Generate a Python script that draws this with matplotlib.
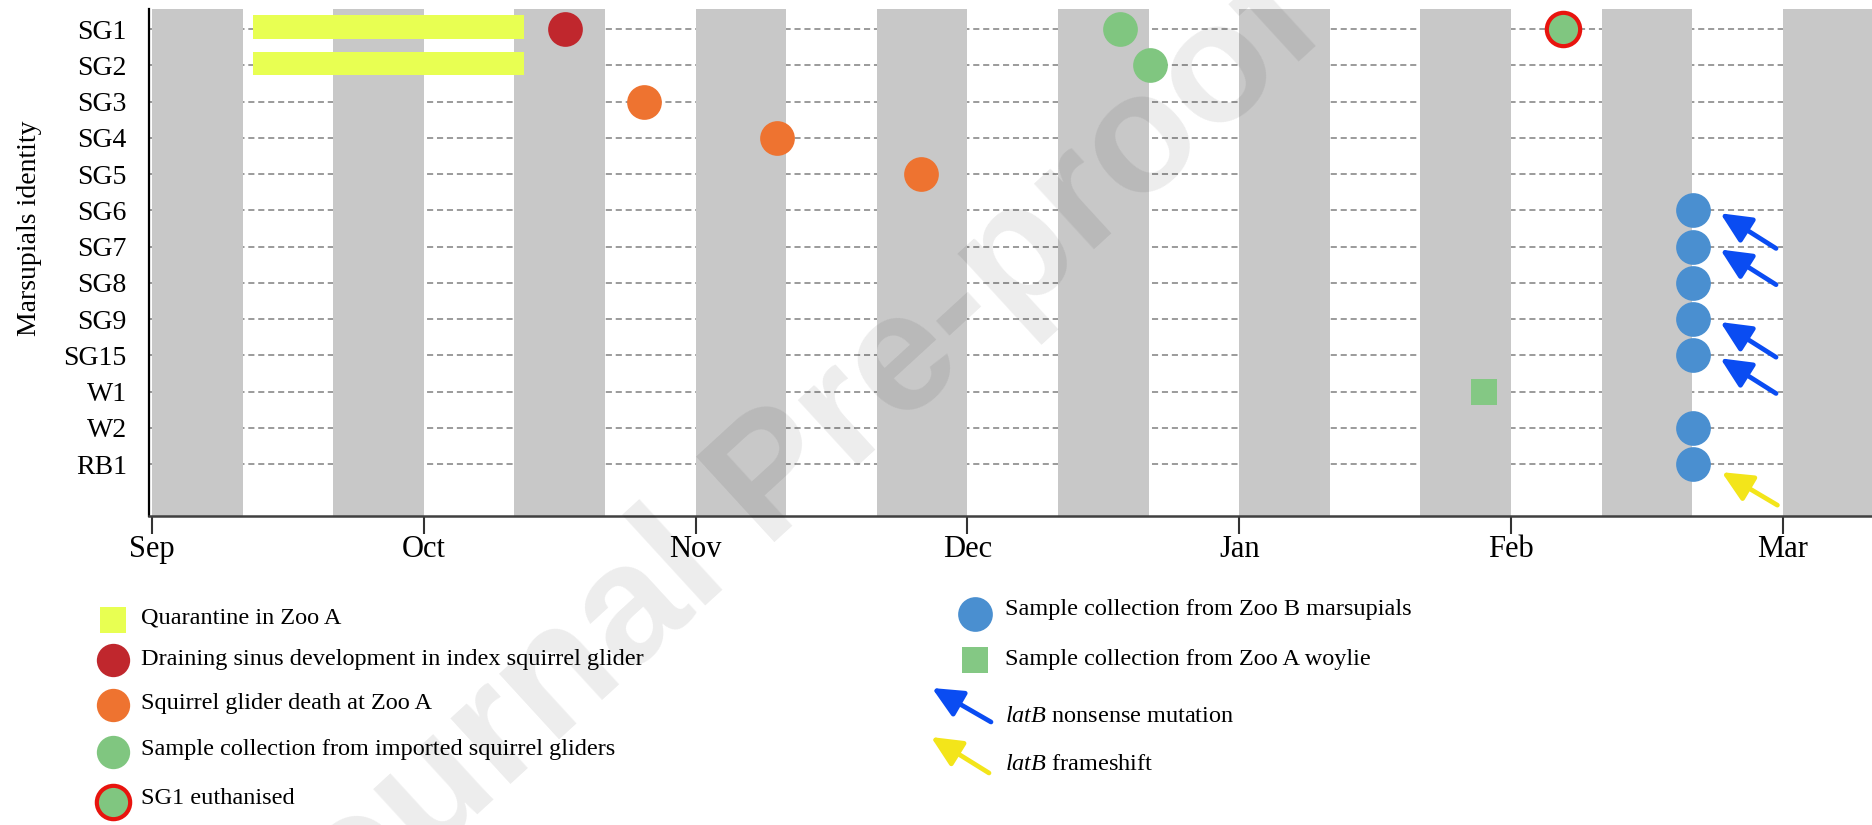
import numpy as np
import matplotlib
matplotlib.use("Agg")
import matplotlib.pyplot as plt

# Rows (top to bottom) and month ticks
animals = ["SG1", "SG2", "SG3", "SG4", "SG5", "SG6", "SG7", "SG8",
           "SG9", "SG15", "W1", "W2", "RB1"]
months = ["Sep", "Oct", "Nov", "Dec", "Jan", "Feb", "Mar"]

# Event positions, in months after 1 Sep
quarantine_ids = ["SG1", "SG2"]
quarantine_start = 0.37
quarantine_end = 1.37
sinus_ids = ["SG1"]
sinus_pos = [1.52]
death_ids = ["SG3", "SG4", "SG5"]
death_pos = [1.81, 2.30, 2.83]
imported_ids = ["SG1", "SG2"]
imported_pos = [3.56, 3.67]
euth_ids = ["SG1"]
euth_pos = [5.19]
woylie_ids = ["W1"]
woylie_pos = [4.90]
zoob_ids = ["SG6", "SG7", "SG8", "SG9", "SG15", "W2", "RB1"]
zoob_pos = [5.67] * 7
nonsense_ids = ["SG6", "SG7", "SG9", "SG15"]
frameshift_ids = ["RB1"]

# Colours
c_band = "#c8c8c8"
c_quar = "#e8ff52"
c_sinus = "#c0272d"
c_death = "#ee7330"
c_green = "#80c680"
c_euth_edge = "#e8140e"
c_blue = "#4a8fd0"
c_square = "#84c884"
c_arrow_blue = "#0a4cf2"
c_arrow_yel = "#f3e51a"

serif = ["Liberation Serif", "DejaVu Serif"]
plt.rcParams["font.family"] = serif
plt.rcParams["mathtext.fontset"] = "custom"
plt.rcParams["mathtext.it"] = "Liberation Serif:italic"
plt.rcParams["mathtext.rm"] = "Liberation Serif"

row = {name: i for i, name in enumerate(animals)}

fig = plt.figure(figsize=(18.72, 8.25), dpi=100)
ax = fig.add_axes([0.0796, 0.3745, 0.9204, 0.614])

# alternating thirds of a month shaded grey
for start in np.arange(0, 6.2, 2 / 3):
    ax.axvspan(start, start + 1 / 3, color=c_band, lw=0, zorder=1)

# dashed row guides (under the bands)
for i in range(len(animals)):
    ax.axhline(i, color="#808080", lw=1.1, dashes=(4, 2.5), zorder=0.5)

# quarantine bars
for name in quarantine_ids:
    ax.barh(row[name] - 0.05, quarantine_end - quarantine_start,
            left=quarantine_start, height=0.65, color=c_quar, zorder=3)

ms = 25
ax.plot(sinus_pos, [row[n] for n in sinus_ids], "o", ms=ms,
        color=c_sinus, mew=0, zorder=4)
ax.plot(death_pos, [row[n] for n in death_ids], "o", ms=ms,
        color=c_death, mew=0, zorder=4)
ax.plot(imported_pos, [row[n] for n in imported_ids], "o", ms=ms,
        color=c_green, mew=0, zorder=4)
ax.plot(euth_pos, [row[n] for n in euth_ids], "o", ms=ms - 1,
        mfc=c_green, mec=c_euth_edge, mew=3, zorder=4)
ax.plot(woylie_pos, [row[n] for n in woylie_ids], "s", ms=19,
        color=c_square, mew=0, zorder=4)
ax.plot(zoob_pos, [row[n] for n in zoob_ids], "o", ms=ms,
        color=c_blue, mew=0, zorder=4)

arrow_kw = dict(arrowstyle="-|>,head_length=0.6,head_width=0.28",
                mutation_scale=31, lw=3.4, shrinkA=0, shrinkB=0)
for name in nonsense_ids:
    r = row[name]
    ax.annotate("", xy=(5.77, r + 0.08), xytext=(5.975, r + 1.05),
                arrowprops=dict(color=c_arrow_blue, **arrow_kw), zorder=5)
for name in frameshift_ids:
    r = row[name]
    ax.annotate("", xy=(5.775, r + 0.22), xytext=(5.98, r + 1.13),
                arrowprops=dict(color=c_arrow_yel, **arrow_kw), zorder=5)

ax.set_xlim(-0.011, 6.328)
ax.set_ylim(13.43, -0.54)
ax.set_xticks(range(len(months)))
ax.set_xticklabels(months, fontsize=22)
ax.set_yticks(range(len(animals)))
ax.set_yticklabels(animals, fontsize=20)
ax.tick_params(axis="x", length=13, width=1.5, color="#333333", pad=1)
ax.tick_params(axis="y", length=0, pad=16)
for s in ["top", "right"]:
    ax.spines[s].set_visible(False)
ax.spines["left"].set_linewidth(1.6)
ax.spines["left"].set_color("black")
ax.spines["bottom"].set_linewidth(1.8)
ax.spines["bottom"].set_color("#404040")
ax.spines["left"].set_zorder(6)
ax.spines["bottom"].set_zorder(6)

fig.text(30 / 1872, 1 - 228 / 825, "Marsupials identity", rotation=90,
         ha="center", va="center", fontsize=20)

# legend drawn in pixel space below the chart
lg = fig.add_axes([0, 0, 1, 1], zorder=-1)
lg.set_xlim(0, 1872)
lg.set_ylim(825, 0)
lg.axis("off")
lfs = 17.5
lg.plot(113, 620, "s", ms=19, color=c_quar, mew=0)
lg.plot(113, 660, "o", ms=24, color=c_sinus, mew=0)
lg.plot(113, 705, "o", ms=24, color=c_death, mew=0)
lg.plot(113, 752, "o", ms=24, color=c_green, mew=0)
lg.plot(113, 802, "o", ms=24, mfc=c_green, mec=c_euth_edge, mew=3)
left_labels = ["Quarantine in Zoo A",
               "Draining sinus development in index squirrel glider",
               "Squirrel glider death at Zoo A",
               "Sample collection from imported squirrel gliders",
               "SG1 euthanised"]
for y, t in zip([618, 659, 704, 750, 798], left_labels):
    lg.text(141, y, t, fontsize=lfs, va="center", ha="left")

lg.plot(975, 614, "o", ms=25, color=c_blue, mew=0)
lg.plot(975, 660, "s", ms=19, color=c_square, mew=0)
lg.annotate("", xy=(932, 688), xytext=(991, 722),
            arrowprops=dict(color=c_arrow_blue, **arrow_kw))
lg.annotate("", xy=(931, 737), xytext=(989, 773),
            arrowprops=dict(color=c_arrow_yel, **arrow_kw))
lg.text(1005, 609, "Sample collection from Zoo B marsupials",
        fontsize=lfs, va="center")
lg.text(1005, 660, "Sample collection from Zoo A woylie",
        fontsize=lfs, va="center")
lg.text(1005, 717, "$\\mathit{latB}$ nonsense mutation",
        fontsize=lfs, va="center")
lg.text(1005, 765, "$\\mathit{latB}$ frameshift",
        fontsize=lfs, va="center")

# journal watermark
fig.text(0.414, 0.416, "Journal Pre-proof", rotation=42.5,
         rotation_mode="anchor", ha="center", va="center", fontsize=122,
         family=["Liberation Sans", "DejaVu Sans"], weight="bold",
         color="black", alpha=0.075, zorder=100)

fig.savefig("out.png", dpi=100)
